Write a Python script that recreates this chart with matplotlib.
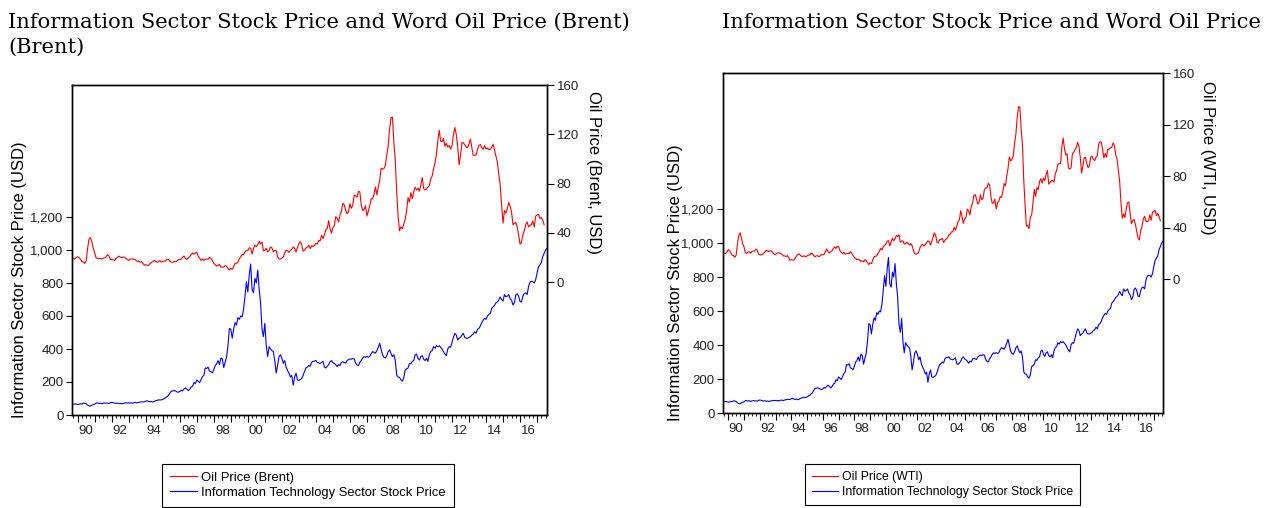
import numpy as np
import matplotlib
matplotlib.use('Agg')
import matplotlib.pyplot as plt
from matplotlib.ticker import FuncFormatter, FixedLocator

plt.rcParams['font.family'] = ['Liberation Sans', 'DejaVu Sans']

# monthly series, first observation September 1989
start_year = 1989 + 8 / 12

it_stock = [
    68, 66, 67, 66,
    64, 65, 68, 66, 72, 71, 68, 60, 55, 54, 60, 63,
    66, 72, 73, 70, 72, 68, 71, 73, 71, 72, 69, 75,
    76, 75, 72, 71, 72, 69, 70, 68, 70, 72, 74, 73,
    74, 72, 74, 71, 76, 75, 73, 77, 78, 80, 79, 80,
    84, 86, 82, 80, 82, 78, 81, 87, 88, 92, 91, 92,
    94, 100, 104, 112, 118, 132, 144, 146, 148, 146, 140, 138,
    142, 150, 146, 158, 164, 156, 148, 156, 170, 174, 196, 190,
    212, 205, 196, 214, 232, 240, 285, 282, 290, 265, 262, 255,
    275, 300, 310, 330, 305, 345, 340, 287, 320, 350, 420, 525,
    520, 465, 520, 560, 545, 590, 580, 600, 595, 640, 720, 808,
    745, 850, 915, 760, 740, 828, 800, 879, 760, 679, 520, 475,
    556, 420, 354, 414, 400, 390, 384, 330, 254, 300, 354, 365,
    345, 313, 330, 290, 270, 254, 230, 240, 181, 230, 254, 212,
    210, 215, 221, 240, 265, 285, 290, 300, 295, 320, 325, 327,
    330, 318, 315, 313, 318, 325, 290, 285, 295, 305, 323, 330,
    318, 312, 305, 293, 305, 300, 318, 323, 318, 315, 330, 335,
    340, 338, 343, 340, 315, 303, 300, 320, 330, 345, 354, 350,
    355, 350, 355, 372, 384, 380, 375, 390, 410, 434, 400, 364,
    350, 345, 360, 384, 395, 372, 354, 365, 330, 242, 230, 228,
    212, 205, 225, 273, 280, 285, 313, 310, 325, 330, 364, 370,
    345, 333, 355, 360, 338, 330, 343, 325, 365, 385, 390, 414,
    405, 420, 414, 420, 410, 400, 384, 370, 360, 400, 414, 410,
    440, 470, 495, 485, 455, 465, 470, 485, 495, 470, 465, 465,
    470, 475, 485, 490, 505, 495, 520, 525, 540, 560, 575, 586,
    580, 600, 610, 615, 646, 655, 665, 680, 685, 697, 715, 700,
    690, 730, 717, 720, 730, 705, 695, 667, 680, 727, 735, 720,
    687, 685, 720, 737, 740, 730, 780, 805, 810, 808, 800, 820,
    860, 899, 910, 925, 960, 980, 1000, 1010,
]

brent = [
    17.8, 19.1, 18.8, 19.9,
    20.5, 19.8, 18.4, 16.6, 16.4, 15.1, 17.2, 27.2, 34.9, 36.0, 32.8, 27.3,
    23.6, 19.5, 19.2, 19.2, 19.2, 18.5, 19.4, 19.6, 20.4, 22.2, 21.4, 18.4,
    18.2, 18.1, 17.6, 19.1, 19.9, 21.0, 20.3, 19.8, 20.2, 20.3, 19.1, 18.2,
    17.5, 18.6, 18.9, 18.5, 18.5, 17.7, 16.8, 16.9, 16.1, 16.6, 15.1, 13.7,
    14.1, 13.6, 13.6, 14.9, 16.0, 16.5, 17.7, 16.8, 15.9, 16.4, 17.5, 16.1,
    16.6, 17.2, 17.0, 18.5, 18.2, 17.0, 16.0, 16.1, 16.6, 16.3, 17.1, 18.1,
    18.2, 18.6, 20.0, 21.1, 19.1, 18.4, 19.6, 20.4, 22.3, 23.6, 22.5, 23.5,
    24.1, 20.9, 19.4, 17.6, 18.7, 17.5, 18.5, 18.7, 18.5, 20.1, 19.2, 17.4,
    15.1, 14.1, 13.0, 13.4, 14.4, 12.1, 12.1, 12.0, 13.4, 12.9, 11.0, 9.8,
    11.1, 10.3, 12.5, 15.3, 15.3, 15.9, 19.1, 20.3, 22.5, 22.0, 24.6, 25.5,
    25.5, 27.8, 27.5, 22.7, 27.4, 29.8, 28.7, 30.2, 33.1, 30.9, 32.5, 25.3,
    25.7, 27.4, 24.5, 25.7, 28.4, 27.7, 24.5, 25.7, 25.5, 20.5, 18.8, 18.7,
    19.4, 20.3, 23.7, 25.7, 25.4, 24.1, 25.7, 26.6, 28.4, 27.5, 24.3, 28.0,
    31.2, 32.8, 30.3, 25.0, 25.8, 27.6, 28.4, 29.8, 27.1, 29.6, 28.8, 29.8,
    31.3, 30.9, 33.8, 33.4, 37.9, 35.2, 38.2, 42.7, 43.2, 49.8, 43.1, 39.7,
    44.3, 45.6, 53.1, 51.9, 48.7, 54.3, 57.5, 64.0, 62.7, 58.5, 55.5, 56.8,
    63.6, 59.9, 62.3, 70.4, 70.0, 68.9, 73.7, 73.2, 62.5, 58.0, 58.8, 62.0,
    53.7, 57.6, 62.1, 67.5, 67.5, 71.3, 77.2, 70.8, 77.2, 82.4, 92.5, 91.5,
    92.2, 94.8, 103.3, 110.4, 124.6, 133.5, 133.9, 113.0, 99.0, 72.8, 53.2, 41.6,
    44.9, 43.4, 47.0, 50.9, 57.9, 68.6, 64.9, 72.5, 67.7, 73.2, 77.0, 74.7,
    76.2, 73.8, 78.8, 84.8, 75.9, 74.8, 75.6, 77.1, 78.2, 83.5, 86.1, 92.0,
    96.5, 103.7, 114.6, 123.3, 114.5, 113.9, 116.7, 110.2, 112.8, 109.6, 110.8, 107.9,
    110.7, 119.3, 125.5, 119.8, 110.3, 95.2, 102.6, 113.4, 113.0, 111.5, 109.5, 109.2,
    112.3, 116.1, 109.0, 102.9, 103.0, 103.1, 107.7, 111.0, 111.6, 109.1, 107.8, 110.8,
    108.1, 108.9, 107.5, 107.8, 109.5, 111.9, 107.0, 101.9, 97.3, 87.3, 79.0, 62.3,
    47.8, 58.1, 55.9, 59.5, 64.6, 61.7, 56.8, 46.5, 47.6, 48.4, 44.3, 38.0,
    30.7, 32.2, 38.2, 41.6, 46.7, 48.8, 44.7, 46.0, 46.6, 49.5, 44.8, 53.3,
    54.6, 54.9, 51.6, 52.3, 50.3, 46.4,
]

wti = [
    19.6, 20.1, 19.8, 21.1,
    22.9, 22.1, 20.4, 18.4, 18.2, 16.9, 18.6, 27.2, 33.7, 35.9, 32.3, 27.3,
    25.2, 20.5, 19.9, 20.8, 21.2, 20.2, 21.4, 21.7, 21.9, 23.2, 22.5, 19.5,
    18.8, 19.0, 18.9, 20.2, 20.9, 22.4, 21.8, 21.4, 21.9, 21.7, 20.3, 19.4,
    19.0, 20.1, 20.3, 20.3, 19.9, 19.1, 17.9, 18.0, 17.5, 18.2, 16.7, 14.5,
    15.0, 14.8, 14.7, 16.4, 17.9, 19.1, 19.7, 18.4, 17.5, 17.7, 18.1, 17.2,
    18.0, 18.5, 18.6, 19.9, 19.7, 18.4, 17.3, 18.0, 18.2, 17.4, 18.0, 19.0,
    18.9, 19.1, 21.3, 23.5, 21.2, 20.4, 21.3, 21.9, 23.9, 24.9, 23.7, 25.4,
    25.2, 22.2, 21.0, 19.7, 20.8, 19.3, 19.6, 19.9, 19.8, 21.3, 20.2, 18.3,
    16.7, 16.1, 15.0, 15.4, 14.9, 13.7, 14.2, 13.4, 15.0, 14.4, 12.9, 11.3,
    12.5, 12.0, 14.7, 17.3, 17.8, 17.9, 20.1, 21.3, 23.9, 22.6, 25.0, 26.1,
    27.2, 29.4, 29.9, 25.7, 28.8, 31.8, 29.7, 31.3, 33.9, 33.1, 34.4, 28.5,
    29.6, 29.6, 27.2, 27.4, 28.6, 27.6, 26.5, 27.5, 25.9, 22.2, 19.7, 19.3,
    19.7, 20.7, 24.4, 26.3, 27.0, 25.5, 26.9, 28.4, 29.7, 28.9, 26.3, 29.4,
    32.9, 35.9, 33.6, 28.3, 28.1, 30.7, 30.8, 31.6, 28.3, 30.3, 31.1, 32.1,
    34.3, 34.7, 36.7, 36.7, 40.3, 38.0, 40.7, 44.9, 45.9, 53.1, 48.5, 43.3,
    46.8, 48.0, 54.3, 53.0, 49.8, 56.3, 58.7, 65.0, 65.6, 62.4, 58.3, 59.4,
    65.5, 61.6, 62.7, 69.4, 70.8, 70.9, 74.4, 73.0, 63.8, 58.9, 59.1, 62.0,
    54.5, 59.3, 60.4, 64.0, 63.5, 67.5, 74.1, 72.4, 79.9, 85.8, 94.8, 91.7,
    93.0, 95.4, 105.5, 112.6, 125.4, 133.9, 133.4, 116.7, 104.1, 76.6, 57.3, 41.1,
    41.7, 39.1, 47.9, 49.7, 59.0, 69.6, 64.2, 71.1, 69.4, 75.7, 78.0, 74.5,
    78.3, 76.4, 81.2, 84.3, 73.7, 75.3, 76.3, 76.6, 75.2, 81.9, 84.3, 89.2,
    89.6, 89.7, 102.9, 109.5, 100.9, 96.3, 97.3, 86.3, 85.5, 86.3, 97.2, 98.6,
    100.3, 102.2, 106.2, 103.3, 94.7, 82.3, 87.9, 94.1, 94.5, 89.5, 86.5, 87.9,
    94.8, 95.3, 92.9, 92.0, 94.5, 95.8, 104.6, 106.6, 106.3, 100.5, 93.9, 97.6,
    94.6, 100.8, 100.8, 102.1, 102.2, 105.8, 103.6, 96.5, 93.2, 84.4, 75.8, 59.3,
    47.2, 50.6, 47.8, 54.5, 59.3, 59.8, 50.9, 42.9, 45.5, 46.2, 42.4, 37.2,
    31.7, 30.3, 37.6, 40.8, 46.7, 48.8, 44.7, 44.7, 45.2, 49.8, 45.7, 52.0,
    52.5, 53.5, 49.3, 51.1, 48.5, 45.2,
]

stock_ticks = [0, 200, 400, 600, 800, 1000, 1200]
oil_ticks = [0, 40, 80, 120, 160]
label_years = list(range(1990, 2017, 2))

W, H = 1270, 508
fig = plt.figure(figsize=(W / 100, H / 100), dpi=100)


def px(x, y):
    return x / W, 1 - y / H


def months(values):
    return start_year + np.arange(len(values)) / 12


def panel(left, top, right, bottom, oil, legend_label, oil_bottom, legend_xy, legend_size):
    ax = fig.add_axes([left / W, 1 - bottom / H, (right - left) / W, (bottom - top) / H])
    ax2 = ax.twinx()

    ax.plot(months(it_stock), it_stock, color='#0000ff', lw=0.8)
    ax2.plot(months(oil), oil, color='#ff0000', lw=0.8)

    ax.set_xlim(start_year, 2017 + 7 / 12)
    ax.set_ylim(0, 2000)
    ax2.set_ylim(oil_bottom, 160)

    # left axis: stock price
    ax.yaxis.set_major_locator(FixedLocator(stock_ticks))
    ax.yaxis.set_major_formatter(FuncFormatter(lambda v, p: f'{int(v):,}'))
    ax.tick_params(axis='y', direction='out', length=4, width=0.8,
                   labelsize=9.5, labelcolor='#222222', pad=2)

    # right axis: oil price
    ax2.yaxis.set_major_locator(FixedLocator(oil_ticks))
    ax2.tick_params(axis='y', direction='out', length=5, width=0.8,
                    labelsize=9.5, labelcolor='#222222', pad=2)

    # x axis: year ticks, quarterly minor ticks, labels mid-year
    ax.xaxis.set_major_locator(FixedLocator(np.arange(1990, 2018)))
    ax.xaxis.set_minor_locator(FixedLocator(np.arange(1989.75, 2017.6, 0.25)))
    ax.tick_params(axis='x', which='major', direction='out', length=5, width=0.8, labelbottom=False)
    ax.tick_params(axis='x', which='minor', direction='out', length=2.5, width=0.6)

    sec = ax.secondary_xaxis('bottom')
    sec.set_xticks([y + 0.5 for y in label_years], labels=[f'{y % 100:02d}' for y in label_years])
    sec.tick_params(length=0, pad=7, labelsize=9.5, labelcolor='#222222')
    sec.spines['bottom'].set_visible(False)

    for a in (ax, ax2):
        for s in a.spines.values():
            s.set_linewidth(1.0)
            s.set_color('black')

    leg = fig.legend(ax2.lines + ax.lines, [legend_label, 'Information Technology Sector Stock Price'],
                     loc='upper left', bbox_to_anchor=px(*legend_xy), borderaxespad=0,
                     fontsize=legend_size, frameon=True, fancybox=False, edgecolor='black',
                     framealpha=1, handlelength=2.1, handletextpad=0.3, labelspacing=0.2,
                     borderpad=0.6)
    leg.get_frame().set_linewidth(0.8)
    return ax, ax2


panel(72, 85, 547, 415, brent, 'Oil Price (Brent)', -108, (162, 464), 9.4)
panel(723, 73, 1163, 413, wti, 'Oil Price (WTI)', -104, (805, 464), 8.8)

# axis titles
fig.text(*px(20, 280), 'Information Sector Stock Price (USD)', rotation=90,
         ha='center', va='center', fontsize=12)
fig.text(*px(594, 172), 'Oil Price (Brent, USD)', rotation=270,
         ha='center', va='center', fontsize=12)
fig.text(*px(675, 283), 'Information Sector Stock Price (USD)', rotation=90,
         ha='center', va='center', fontsize=12)
fig.text(*px(1208, 158), 'Oil Price (WTI, USD)', rotation=270,
         ha='center', va='center', fontsize=12)

# panel headings
serif = ['DejaVu Serif']
fig.text(*px(8, 28), 'Information Sector Stock Price and Word Oil Price (Brent)',
         family=serif, fontsize=15.1, va='baseline')
fig.text(*px(8, 53), '(Brent)', family=serif, fontsize=15.1, va='baseline')
fig.text(*px(722, 28), 'Information Sector Stock Price and Word Oil Price',
         family=serif, fontsize=15.1, va='baseline')

fig.savefig('out.png', dpi=100)
